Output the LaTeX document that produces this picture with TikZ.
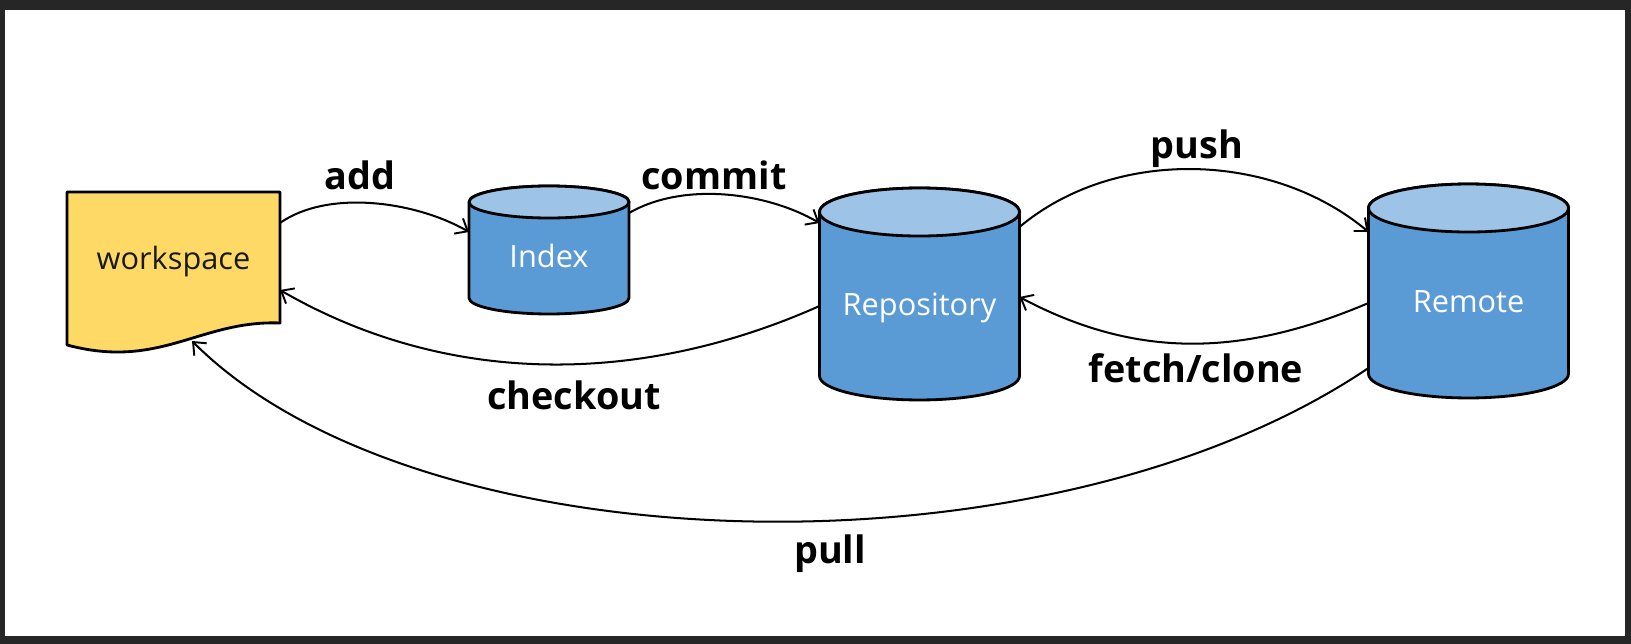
\documentclass[tikz,border=0pt]{standalone}
\usepackage{fontspec}
\setmainfont{Open Sans}
\usetikzlibrary{arrows.meta,backgrounds}

\definecolor{framegray}{HTML}{262626}
\definecolor{drumbody}{HTML}{5B9BD5}
\definecolor{drumlid}{HTML}{9DC3E6}
\definecolor{docfill}{HTML}{FFD966}

\pgfdeclarelayer{canvas}
\pgfsetlayers{canvas,background,main}

% cylinder drawn around a node: #1 node, #2 x radius, #3 y radius, #4 half of y radius
\newcommand\drum[4]{%
  \filldraw[drumedge, fill=drumbody] ([yshift=#4]#1.north west) -- ([yshift=#4]#1.south west)
    arc[start angle=180, end angle=360, x radius=#2, y radius=#3]
    -- ([yshift=#4]#1.north east)
    arc[start angle=0, end angle=180, x radius=#2, y radius=#3] -- cycle;
  \filldraw[drumedge, fill=drumlid] ([yshift=#4]#1.north) ellipse[x radius=#2, y radius=#3];
}

\tikzset{
  drumedge/.style={draw=black, line width=1.6pt, line join=round},
  drumnode/.style={rectangle, inner sep=0pt, outer sep=0pt, text=white,
    font=\fontsize{17.5}{20}\selectfont, text height=1.12em, text depth=0pt},
  docnode/.style={rectangle, inner sep=0pt, outer sep=0pt, text=black!90,
    font=\fontsize{17.5}{20}\selectfont, text height=1.08em, text depth=0pt},
  link/.style={draw=black, line width=1.15pt,
    -{Straight Barb[length=6pt, width=10pt, line width=1.1pt]}},
  lbl/.style={anchor=base, font=\bfseries\fontsize{21.5}{24}\selectfont, text=black},
}

\begin{document}
\begin{tikzpicture}[x=0.02cm, y=0.02cm]
  % frame
  \begin{pgfonlayer}{canvas}
    \fill[framegray] (0,0) rectangle (1631,-644);
    \fill[white] (5,-10) rectangle (1625,-636);
  \end{pgfonlayer}
  \useasboundingbox (0,0) rectangle (1631,-644);

  % nodes
  \node[docnode, minimum width=4.26cm, minimum height=2.72cm] (ws) at (173.5,-260) {workspace};
  \node[drumnode, minimum width=3.2cm, minimum height=1.92cm] (idx) at (549,-258) {Index};
  \node[drumnode, minimum width=4cm, minimum height=3.28cm] (repo) at (919.5,-306) {Repository};
  \node[drumnode, minimum width=4cm, minimum height=3.32cm] (rem) at (1468.5,-303) {Remote};

  % shapes behind the nodes
  \begin{pgfonlayer}{background}
    \filldraw[drumedge, fill=docfill] (ws.north west) -- (ws.north east)
      -- ([yshift=0.1cm]ws.south east)
      .. controls (200,-320) and (160,-370) .. ([yshift=-0.34cm]ws.south west) -- cycle;
    \drum{idx}{1.6cm}{0.32cm}{0.16cm}
    \drum{repo}{2cm}{0.48cm}{0.24cm}
    \drum{rem}{2cm}{0.48cm}{0.24cm}
  \end{pgfonlayer}

  % connectors
  \draw[link] ([yshift=0.74cm]ws.east) to[out=35, in=150, distance=1.2cm] ([yshift=0.52cm]idx.west);
  \draw[link] ([yshift=0.9cm]idx.east) to[out=30, in=150, distance=1.25cm] ([yshift=1.66cm]repo.west);
  \draw[link] ([yshift=1.58cm]repo.east) to[out=40, in=140, distance=2.5cm] ([yshift=1.42cm]rem.west);
  \draw[link] (rem.west) to[out=203, in=-28, distance=2.7cm] ([yshift=0.18cm]repo.east);
  \draw[link] (repo.west) to[out=204, in=-30, distance=3.9cm] ([yshift=-0.6cm]ws.east);
  \draw[link] ([yshift=-1.3cm]rem.west) to[out=214, in=-45, out distance=7.8cm, in distance=6.4cm]
    ([xshift=0.37cm, yshift=-0.26cm]ws.south);

  % labels
  \node[lbl] (addlbl) at (360,-190) {add};
  \node[lbl] (commitlbl) at (714,-190) {commit};
  \node[lbl] (pushlbl) at (1197,-159) {push};
  \node[lbl] (fetchlbl) at (1196,-383) {fetch/clone};
  \node[lbl] (checkoutlbl) at (574,-410) {checkout};
  \node[lbl] (pulllbl) at (830,-563) {pull};
\end{tikzpicture}
\end{document}
